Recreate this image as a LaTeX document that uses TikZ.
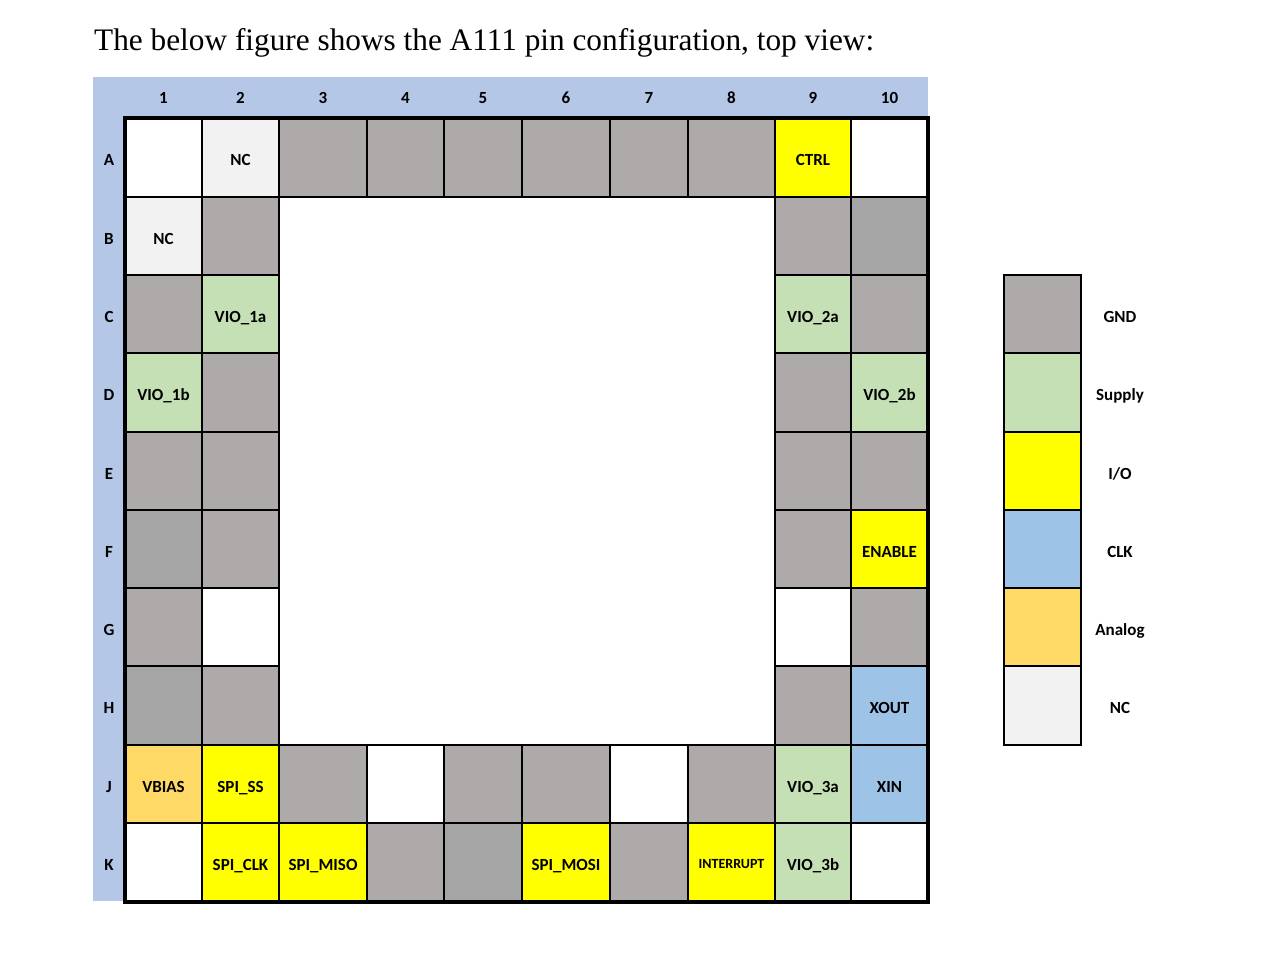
\documentclass[tikz,border=0pt]{standalone}
\usepackage{fontspec}
\setmainfont{Liberation Serif}
\newfontfamily\cellfont{Carlito}
\definecolor{gndc}{HTML}{AEAAAA}
\definecolor{gnddc}{HTML}{A5A5A5}
\definecolor{supc}{HTML}{C5E0B4}
\definecolor{ioc}{HTML}{FFFF00}
\definecolor{clkc}{HTML}{9DC3E6}
\definecolor{anac}{HTML}{FFD966}
\definecolor{ncc}{HTML}{F2F2F2}
\definecolor{hdrc}{HTML}{B4C7E7}
\def\colx{{125,202,279,367,444,522,610,688,775,851,928}}
\def\rowy{{118,197,275,353,432,510,588,666,745,823,902}}
\newcommand\pin[5]{%
\pgfmathsetmacro\pxl{\colx[#2-1]}%
\pgfmathsetmacro\pxr{\colx[#2]}%
\pgfmathsetmacro\pyt{\rowy[#1-1]}%
\pgfmathsetmacro\pyb{\rowy[#1]}%
\pgfmathsetmacro\pw{\pxr-\pxl}%
\pgfmathsetmacro\ph{\pyb-\pyt}%
\pgfmathsetmacro\pcx{(\pxl+\pxr)/2}%
\pgfmathsetmacro\pcy{(\pyt+\pyb)/2}%
\node[cell,#4,minimum width=\pw pt,minimum height=\ph pt] (#3) at (\pcx,\pcy) {#5};}
\begin{document}
\begin{tikzpicture}[x=1pt,y=-1pt,
  cell/.style={draw=black, line width=2pt, inner sep=0pt, outer sep=0pt, text height=17pt, text depth=1pt, font=\cellfont\bfseries\fontsize{17}{20}\selectfont},
  lab/.style={inner sep=0pt, text height=17pt, text depth=1pt, font=\cellfont\bfseries\fontsize{17}{20}\selectfont},
  smalltext/.style={text height=12pt, text depth=1pt, font=\cellfont\bfseries\fontsize{14}{16}\selectfont},
  gnd/.style={fill=gndc}, gndd/.style={fill=gnddc}, sup/.style={fill=supc},
  io/.style={fill=ioc}, clk/.style={fill=clkc}, ana/.style={fill=anac},
  nc/.style={fill=ncc}, emp/.style={fill=white}]
\useasboundingbox (0,0) rectangle (1280,967);
\node[anchor=base west, inner sep=0pt, font=\fontsize{31.3}{35}\selectfont] (title) at (94,50) {The below figure shows the A111 pin configuration, top view:};
\fill[hdrc] (93,77) rectangle (928,118);
\fill[hdrc] (93,77) rectangle (125,901);
% column headers
\foreach \c in {1,...,10}{
  \pgfmathsetmacro\hxa{\colx[\c-1]}
  \pgfmathsetmacro\hxb{\colx[\c]}
  \pgfmathsetmacro\hx{(\hxa+\hxb)/2}
  \node[lab] (h\c) at (\hx,95) {\c};
}
% row letters
\foreach \r/\l in {1/A,2/B,3/C,4/D,5/E,6/F,7/G,8/H,9/J,10/K}{
  \pgfmathsetmacro\rya{\rowy[\r-1]}
  \pgfmathsetmacro\ryb{\rowy[\r]}
  \pgfmathsetmacro\ry{(\rya+\ryb)/2}
  \node[lab] (r\l) at (109,\ry) {\l};
}
% row A
\pin{1}{1}{A1}{emp}{}
\pin{1}{2}{A2}{nc}{NC}
\pin{1}{3}{A3}{gnd}{}
\pin{1}{4}{A4}{gnd}{}
\pin{1}{5}{A5}{gnd}{}
\pin{1}{6}{A6}{gnd}{}
\pin{1}{7}{A7}{gnd}{}
\pin{1}{8}{A8}{gnd}{}
\pin{1}{9}{A9}{io}{CTRL}
\pin{1}{10}{A10}{emp}{}
% row B
\pin{2}{1}{B1}{nc}{NC}
\pin{2}{2}{B2}{gnd}{}
\pin{2}{9}{B9}{gnd}{}
\pin{2}{10}{B10}{gndd}{}
% row C
\pin{3}{1}{C1}{gnd}{}
\pin{3}{2}{C2}{sup}{VIO\_1a}
\pin{3}{9}{C9}{sup}{VIO\_2a}
\pin{3}{10}{C10}{gnd}{}
% row D
\pin{4}{1}{D1}{sup}{VIO\_1b}
\pin{4}{2}{D2}{gnd}{}
\pin{4}{9}{D9}{gnd}{}
\pin{4}{10}{D10}{sup}{VIO\_2b}
% row E
\pin{5}{1}{E1}{gnd}{}
\pin{5}{2}{E2}{gnd}{}
\pin{5}{9}{E9}{gnd}{}
\pin{5}{10}{E10}{gnd}{}
% row F
\pin{6}{1}{F1}{gndd}{}
\pin{6}{2}{F2}{gnd}{}
\pin{6}{9}{F9}{gnd}{}
\pin{6}{10}{F10}{io}{ENABLE}
% row G
\pin{7}{1}{G1}{gnd}{}
\pin{7}{2}{G2}{emp}{}
\pin{7}{9}{G9}{emp}{}
\pin{7}{10}{G10}{gnd}{}
% row H
\pin{8}{1}{H1}{gndd}{}
\pin{8}{2}{H2}{gnd}{}
\pin{8}{9}{H9}{gnd}{}
\pin{8}{10}{H10}{clk}{XOUT}
% row J
\pin{9}{1}{J1}{ana}{VBIAS}
\pin{9}{2}{J2}{io}{SPI\_SS}
\pin{9}{3}{J3}{gnd}{}
\pin{9}{4}{J4}{emp}{}
\pin{9}{5}{J5}{gnd}{}
\pin{9}{6}{J6}{gnd}{}
\pin{9}{7}{J7}{emp}{}
\pin{9}{8}{J8}{gnd}{}
\pin{9}{9}{J9}{sup}{VIO\_3a}
\pin{9}{10}{J10}{clk}{XIN}
% row K
\pin{10}{1}{K1}{emp}{}
\pin{10}{2}{K2}{io}{SPI\_CLK}
\pin{10}{3}{K3}{io}{SPI\_MISO}
\pin{10}{4}{K4}{gnd}{}
\pin{10}{5}{K5}{gndd}{}
\pin{10}{6}{K6}{io}{SPI\_MOSI}
\pin{10}{7}{K7}{gnd}{}
\pin{10}{8}{K8}{io,smalltext}{INTERRUPT}
\pin{10}{9}{K9}{sup}{VIO\_3b}
\pin{10}{10}{K10}{emp}{}
% outer frame
\draw[line width=4.5pt] (A1.north west) rectangle (K10.south east);
% legend
\foreach \n/\s/\y/\t in {GND/gnd/314/GND, SUP/sup/392.5/Supply, IO/io/471/{I/O}, CLK/clk/549/CLK, ANA/ana/627/Analog, NC/nc/705.5/NC}{
  \node[cell,\s,minimum width=77pt,minimum height=78.5pt] (lg\n) at (1042.5,\y) {};
  \node[lab] (lt\n) at (1120,\y) {\t};
}
\end{tikzpicture}
\end{document}
